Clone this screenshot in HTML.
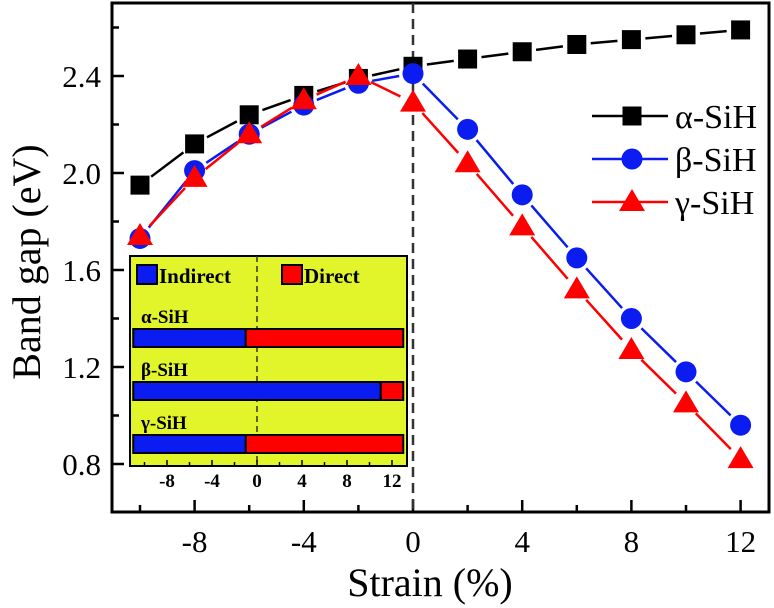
<!DOCTYPE html>
<html><head><meta charset="utf-8"><style>
body{margin:0;background:#fff}
svg{display:block;font-family:"Liberation Serif",serif}
</style></head><body>
<svg id="chart" width="774" height="608" viewBox="0 0 774 608"></svg>
<script>
const strain=[-10,-8,-6,-4,-2,0,2,4,6,8,10,12];
const alphaVals=[1.95,2.12,2.24,2.32,2.39,2.44,2.47,2.50,2.53,2.55,2.57,2.59];
const betaVals=[1.73,2.01,2.16,2.28,2.37,2.41,2.18,1.91,1.65,1.40,1.18,0.96];
const gammaVals=[1.74,1.98,2.16,2.30,2.40,2.29,2.04,1.78,1.52,1.27,1.05,0.82];
const xTicks=[-8,-4,0,4,8,12];
const yTicks=[0.8,1.2,1.6,2.0,2.4];
const insetTicks=[-8,-4,0,4,8,12];
const insetNames=["α-SiH","β-SiH","γ-SiH"];
const insetSplit=[-1,11,-1];
const insetStart=-11, insetEnd=13;

const NS="http://www.w3.org/2000/svg";
const svg=document.getElementById('chart');
function el(t,a,p){const e=document.createElementNS(NS,t);for(const k in a)e.setAttribute(k,a[k]);(p||svg).appendChild(e);return e;}
const X=v=>413+27.3*v;
const Y=v=>76-(v-2.4)*242.5;
const L=112,R=769,T=3,B=512;

let f=el('rect',{x:L,y:T,width:R-L,height:B-T,fill:'none',stroke:'#000','stroke-width':3});

for(let v=-10;v<=12;v+=2){const major=xTicks.includes(v);
 let t=el('line',{x1:X(v),x2:X(v),y1:B,y2:B-(major?12:7),stroke:'#000','stroke-width':2.5});
 }
xTicks.forEach(v=>{let t=el('text',{x:X(v),y:552,'font-size':31,'text-anchor':'middle'});t.textContent=v;
 });
for(let i=0;i<=10;i++){const v=0.8+0.2*i;
 let t=el('line',{x1:L,x2:L+(i%2===0?12:7),y1:Y(v),y2:Y(v),stroke:'#000','stroke-width':2.5});
 }
yTicks.forEach(v=>{let t=el('text',{x:101,y:Y(v)+11,'font-size':31,'text-anchor':'end'});t.textContent=v.toFixed(1);
 });
let xt=el('text',{x:430,y:596,'font-size':40,'text-anchor':'middle'});xt.textContent='Strain (%)';

let yt=el('text',{x:0,y:0,'font-size':40,'text-anchor':'middle',transform:'translate(40,262) rotate(-90)'});yt.textContent='Band gap (eV)';

let zl=el('line',{x1:X(0),x2:X(0),y1:T,y2:B,stroke:'#333','stroke-width':2.5,'stroke-dasharray':'10,6'});


function marker(kind,x,y,c,g,name){let m;
 if(kind==='sq')m=el('rect',{x:x-9.5,y:y-9.5,width:19,height:19,fill:c},g);
 else if(kind==='ci')m=el('circle',{cx:x,cy:y,r:10.5,fill:c},g);
 else m=el('polygon',{points:`${x},${y-13} ${x-13},${y+9} ${x+13},${y+9}`,fill:c},g);
 }
function series(vals,c,kind,name){const g=el('g',{});
 
 for(let i=0;i<vals.length-1;i++){const x1=X(strain[i]),y1=Y(vals[i]),x2=X(strain[i+1]),y2=Y(vals[i+1]);
  const d=Math.hypot(x2-x1,y2-y1),ux=(x2-x1)/d,uy=(y2-y1)/d,gap=14;
  let s=el('line',{x1:x1+ux*gap,y1:y1+uy*gap,x2:x2-ux*gap,y2:y2-uy*gap,stroke:c,'stroke-width':2.5},g);
  }
 vals.forEach((v,i)=>marker(kind,X(strain[i]),Y(v),c,g,name+'-point'));}
series(alphaVals,'#000','sq','alpha-sih');
series(betaVals,'#0a1cf0','ci','beta-sih');
series(gammaVals,'#f00','tr','gamma-sih');

const leg=[["α-SiH",'#000','sq'],["β-SiH",'#0a1cf0','ci'],["γ-SiH",'#f00','tr']];
leg.forEach((l,i)=>{const y=116+i*43;const g=el('g',{});
 
 el('line',{x1:592,x2:668,y1:y,y2:y,stroke:l[1],'stroke-width':2.5},g);
 marker(l[2],632,y,l[1],g,'legend-marker');
 let t=el('text',{x:675,y:y+12,'font-size':34},g);t.textContent=l[0];});

const ig=el('g',{});
const IX=v=>257+11.25*v;
let ib=el('rect',{x:130,y:256,width:277,height:210,fill:'#e2f52a',stroke:'#000','stroke-width':2},ig);

let il=el('line',{x1:IX(0),x2:IX(0),y1:256,y2:466,stroke:'#333','stroke-width':1.5,'stroke-dasharray':'6,4'},ig);

for(let v=-10;v<=12;v+=2){let t=el('line',{x1:IX(v),x2:IX(v),y1:466,y2:466-(insetTicks.includes(v)?6:4),stroke:'#000','stroke-width':1.5},ig);
 }
insetTicks.forEach(v=>{let t=el('text',{x:IX(v),y:487,'font-size':19,'font-weight':'bold','text-anchor':'middle'},ig);t.textContent=v;
 });
[["Indirect",'#0a1cf0',137],["Direct",'#f00',282]].forEach(l=>{const g=el('g',{},ig);
 
 el('rect',{x:l[2],y:265,width:20,height:19,fill:l[1],stroke:'#000','stroke-width':2},g);
 let t=el('text',{x:l[2]+22,y:283,'font-size':21,'font-weight':'bold'},g);t.textContent=l[0];});
insetNames.forEach((n,i)=>{const y=329+i*53;
 let t=el('text',{x:141,y:y-6,'font-size':19,'font-weight':'bold'},ig);t.textContent=n;
 
 let a=el('rect',{x:IX(insetStart),y:y,width:IX(insetSplit[i])-IX(insetStart),height:18,fill:'#0a1cf0',stroke:'#000','stroke-width':2},ig);
 
 let b=el('rect',{x:IX(insetSplit[i]),y:y,width:IX(insetEnd)-IX(insetSplit[i]),height:18,fill:'#f00',stroke:'#000','stroke-width':2},ig);
 });
</script>
</body></html>
